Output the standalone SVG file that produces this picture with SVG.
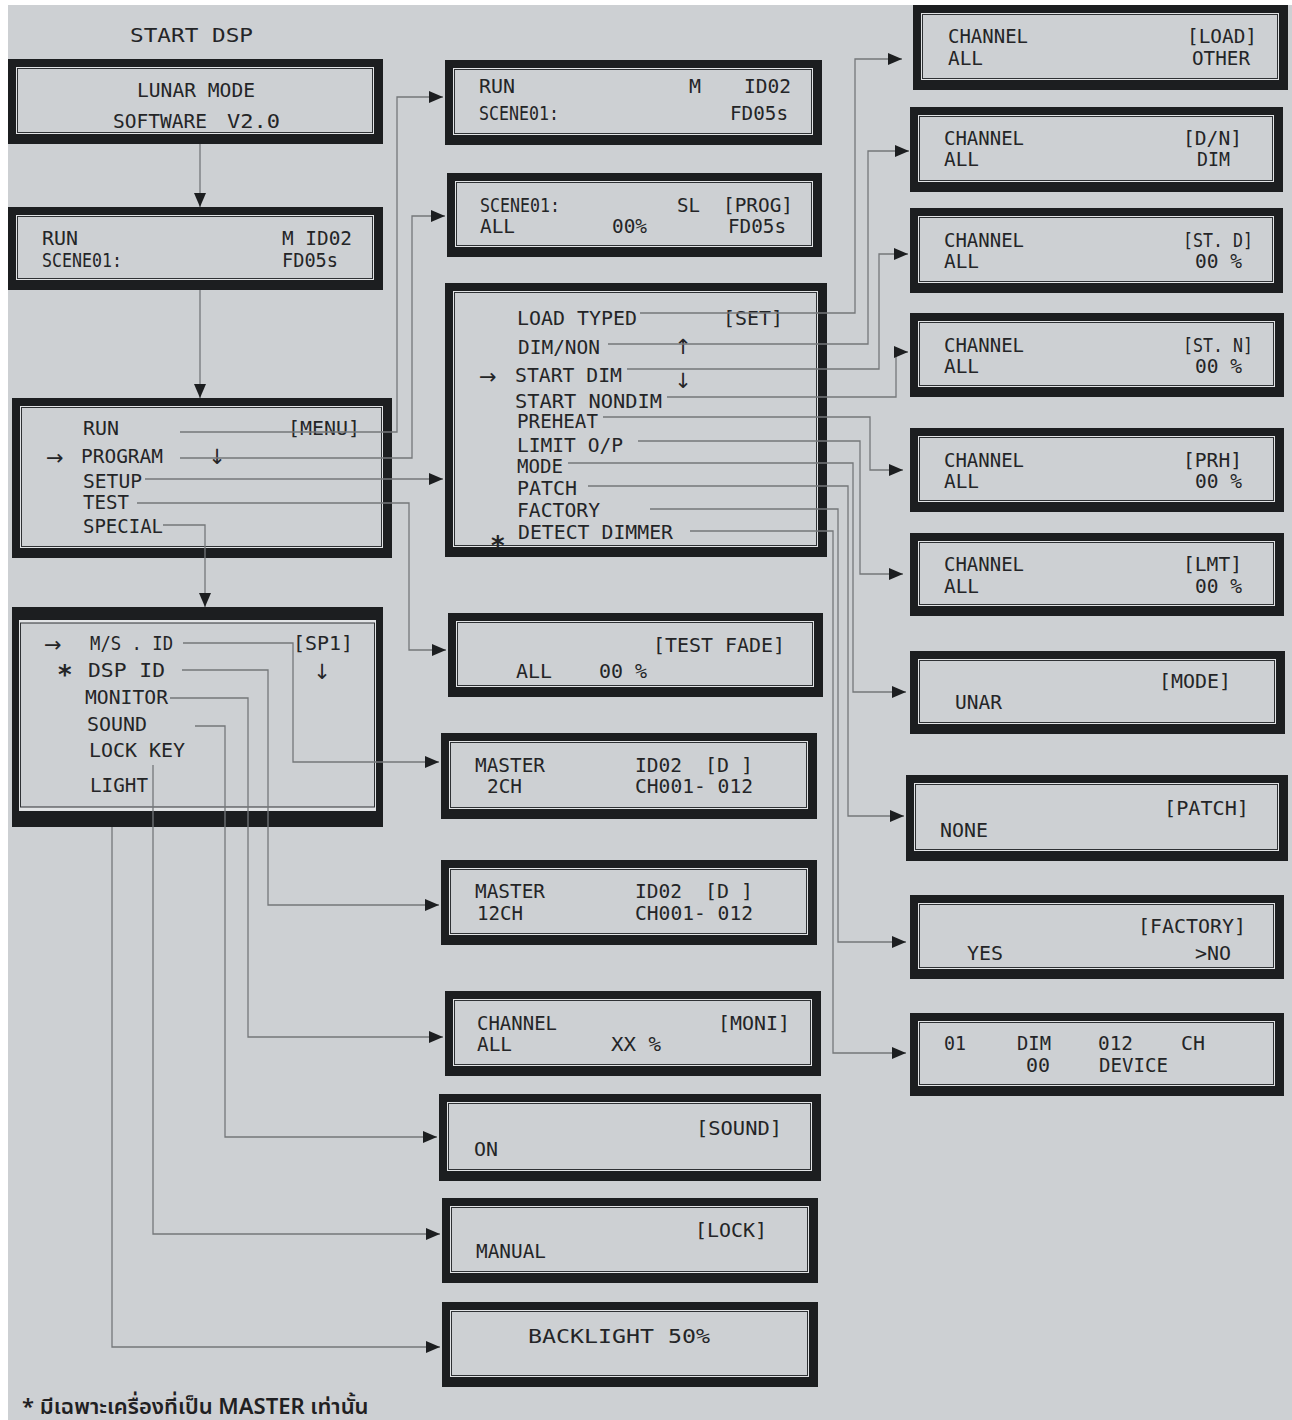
<svg xmlns="http://www.w3.org/2000/svg" width="1292" height="1420" viewBox="0 0 1292 1420">
<style>
.f{fill:#1c1e20}
.r{fill:#e2e4e6}
.i{fill:#cdd0d3;stroke:#2e3134;stroke-width:1}
.t{font-family:"DejaVu Sans Mono","Liberation Mono",monospace;font-size:20px;fill:#242527}
.s{font-family:"DejaVu Sans","Liberation Sans",sans-serif;font-size:21px;fill:#242527}
.a{font-family:"DejaVu Sans","Liberation Sans",sans-serif;font-size:26px;font-weight:bold;fill:#242527}
.c{fill:none;stroke:#74777a;stroke-width:1.3}
.th{font-family:"Noto Sans","Noto Sans Thai","DejaVu Sans",sans-serif;font-size:22px;font-weight:600;fill:#1f2022}
</style>
<defs>
<marker id="ah" markerWidth="14" markerHeight="12" refX="14" refY="6" orient="auto" markerUnits="userSpaceOnUse">
<path d="M0,0 L14,6 L0,12 z" fill="#1c1e20"/>
</marker>
</defs>
<rect x="0" y="0" width="1292" height="1420" fill="#ffffff"/>
<rect x="8" y="5" width="1284" height="1415" fill="#cdd0d3"/>

<text class="t" x="130" y="42" font-size="28" textLength="123" lengthAdjust="spacingAndGlyphs">START DSP</text>

<g id="lunar-mode">
<rect class="f" x="8" y="59" width="375" height="85"/>
<rect class="r" x="16" y="67" width="358" height="67"/>
<rect class="i" x="17.5" y="68.5" width="355" height="64"/>
<text class="t" x="137" y="97" textLength="118" lengthAdjust="spacingAndGlyphs">LUNAR MODE</text>
<text class="t" x="113" y="128" textLength="94" lengthAdjust="spacingAndGlyphs">SOFTWARE</text>
<text class="t" x="227" y="128" textLength="53" lengthAdjust="spacingAndGlyphs">V2.0</text>
</g>

<g id="run-main">
<rect class="f" x="8" y="207" width="375" height="83"/>
<rect class="r" x="16" y="215" width="358" height="65"/>
<rect class="i" x="17.5" y="216.5" width="355" height="62"/>
<text class="t" x="42" y="245" textLength="36" lengthAdjust="spacingAndGlyphs">RUN</text>
<text class="t" x="42" y="267" textLength="80" lengthAdjust="spacingAndGlyphs">SCENE01:</text>
<text class="t" x="282" y="245" textLength="70" lengthAdjust="spacingAndGlyphs">M ID02</text>
<text class="t" x="282" y="267" textLength="56" lengthAdjust="spacingAndGlyphs">FD05s</text>
</g>

<g id="menu">
<rect class="f" x="12" y="398" width="380" height="160"/>
<rect class="r" x="20" y="406" width="363" height="142"/>
<rect class="i" x="21.5" y="407.5" width="360" height="139"/>
<text class="t" x="83" y="435" textLength="36" lengthAdjust="spacingAndGlyphs">RUN</text>
<text class="t" x="288" y="435" textLength="72" lengthAdjust="spacingAndGlyphs">[MENU]</text>
<text class="s" x="46" y="465">→</text>
<text class="t" x="81" y="463" textLength="82" lengthAdjust="spacingAndGlyphs">PROGRAM</text>
<text class="s" x="217" y="464" text-anchor="middle">↓</text>
<text class="t" x="83" y="488" textLength="59" lengthAdjust="spacingAndGlyphs">SETUP</text>
<text class="t" x="83" y="509" textLength="46" lengthAdjust="spacingAndGlyphs">TEST</text>
<text class="t" x="83" y="533" textLength="80" lengthAdjust="spacingAndGlyphs">SPECIAL</text>
</g>

<g id="special">
<rect class="f" x="12" y="607" width="371" height="220"/>
<rect class="r" x="19" y="620" width="357" height="191"/>
<rect class="i" x="20.5" y="623" width="354" height="184" stroke-width="2.5"/>
<text class="s" x="44" y="652">→</text>
<text class="t" x="90" y="650" textLength="83" lengthAdjust="spacingAndGlyphs">M/S . ID</text>
<text class="t" x="293" y="650" textLength="60" lengthAdjust="spacingAndGlyphs">[SP1]</text>
<text class="a" x="58" y="684">*</text>
<text class="t" x="88" y="677" textLength="77" lengthAdjust="spacingAndGlyphs">DSP ID</text>
<text class="s" x="322" y="679" text-anchor="middle">↓</text>
<text class="t" x="85" y="704" textLength="83" lengthAdjust="spacingAndGlyphs">MONITOR</text>
<text class="t" x="87" y="731" textLength="60" lengthAdjust="spacingAndGlyphs">SOUND</text>
<text class="t" x="89" y="757" textLength="96" lengthAdjust="spacingAndGlyphs">LOCK KEY</text>
<text class="t" x="90" y="792" textLength="58" lengthAdjust="spacingAndGlyphs">LIGHT</text>
</g>

<g id="run-scene">
<rect class="f" x="445" y="60" width="377" height="85"/>
<rect class="r" x="453" y="68" width="360" height="67"/>
<rect class="i" x="454.5" y="69.5" width="357" height="64"/>
<text class="t" x="479" y="93" textLength="36" lengthAdjust="spacingAndGlyphs">RUN</text>
<text class="t" x="479" y="120" textLength="80" lengthAdjust="spacingAndGlyphs">SCENE01:</text>
<text class="t" x="689" y="93" textLength="12" lengthAdjust="spacingAndGlyphs">M</text>
<text class="t" x="744" y="93" textLength="47" lengthAdjust="spacingAndGlyphs">ID02</text>
<text class="t" x="730" y="120" textLength="58" lengthAdjust="spacingAndGlyphs">FD05s</text>
</g>

<g id="prog">
<rect class="f" x="447" y="173" width="375" height="84"/>
<rect class="r" x="455" y="181" width="358" height="66"/>
<rect class="i" x="456.5" y="182.5" width="355" height="63"/>
<text class="t" x="480" y="212" textLength="80" lengthAdjust="spacingAndGlyphs">SCENE01:</text>
<text class="t" x="480" y="233" textLength="35" lengthAdjust="spacingAndGlyphs">ALL</text>
<text class="t" x="612" y="233" textLength="35" lengthAdjust="spacingAndGlyphs">00%</text>
<text class="t" x="677" y="212" textLength="23" lengthAdjust="spacingAndGlyphs">SL</text>
<text class="t" x="723" y="212" textLength="70" lengthAdjust="spacingAndGlyphs">[PROG]</text>
<text class="t" x="728" y="233" textLength="58" lengthAdjust="spacingAndGlyphs">FD05s</text>
</g>

<g id="setup">
<rect class="f" x="445" y="283" width="382" height="274"/>
<rect class="r" x="453" y="291" width="365" height="256"/>
<rect class="i" x="454.5" y="292.5" width="362" height="253"/>
<text class="t" x="517" y="325" textLength="120" lengthAdjust="spacingAndGlyphs">LOAD TYPED</text>
<text class="t" x="723" y="325" textLength="60" lengthAdjust="spacingAndGlyphs">[SET]</text>
<text class="t" x="518" y="354" textLength="82" lengthAdjust="spacingAndGlyphs">DIM/NON</text>
<text class="s" x="683" y="354" text-anchor="middle">↑</text>
<text class="s" x="479" y="384">→</text>
<text class="t" x="515" y="382" textLength="107" lengthAdjust="spacingAndGlyphs">START DIM</text>
<text class="s" x="683" y="388" text-anchor="middle">↓</text>
<text class="t" x="515" y="408" textLength="147" lengthAdjust="spacingAndGlyphs">START NONDIM</text>
<text class="t" x="517" y="428" textLength="81" lengthAdjust="spacingAndGlyphs">PREHEAT</text>
<text class="t" x="517" y="452" textLength="106" lengthAdjust="spacingAndGlyphs">LIMIT O/P</text>
<text class="t" x="517" y="473" textLength="46" lengthAdjust="spacingAndGlyphs">MODE</text>
<text class="t" x="517" y="495" textLength="60" lengthAdjust="spacingAndGlyphs">PATCH</text>
<text class="t" x="517" y="517" textLength="83" lengthAdjust="spacingAndGlyphs">FACTORY</text>
<text class="a" x="491" y="555">*</text>
<text class="t" x="518" y="539" textLength="155" lengthAdjust="spacingAndGlyphs">DETECT DIMMER</text>
</g>

<g id="test">
<rect class="f" x="448" y="613" width="375" height="84"/>
<rect class="r" x="456" y="621" width="358" height="66"/>
<rect class="i" x="457.5" y="622.5" width="355" height="63"/>
<text class="t" x="653" y="652" textLength="132" lengthAdjust="spacingAndGlyphs">[TEST FADE]</text>
<text class="t" x="516" y="678" textLength="36" lengthAdjust="spacingAndGlyphs">ALL</text>
<text class="t" x="599" y="678" textLength="48" lengthAdjust="spacingAndGlyphs">00 %</text>
</g>

<g id="master-2ch">
<rect class="f" x="441" y="733" width="376" height="86"/>
<rect class="r" x="449" y="741" width="359" height="68"/>
<rect class="i" x="450.5" y="742.5" width="356" height="65"/>
<text class="t" x="475" y="772" textLength="70" lengthAdjust="spacingAndGlyphs">MASTER</text>
<text class="t" x="487" y="793" textLength="35" lengthAdjust="spacingAndGlyphs">2CH</text>
<text class="t" x="635" y="772" textLength="47" lengthAdjust="spacingAndGlyphs">ID02</text>
<text class="t" x="705" y="772" textLength="48" lengthAdjust="spacingAndGlyphs">[D ]</text>
<text class="t" x="635" y="793" textLength="118" lengthAdjust="spacingAndGlyphs">CH001- 012</text>
</g>

<g id="master-12ch">
<rect class="f" x="441" y="860" width="376" height="85"/>
<rect class="r" x="449" y="868" width="359" height="67"/>
<rect class="i" x="450.5" y="869.5" width="356" height="64"/>
<text class="t" x="475" y="898" textLength="70" lengthAdjust="spacingAndGlyphs">MASTER</text>
<text class="t" x="477" y="920" textLength="46" lengthAdjust="spacingAndGlyphs">12CH</text>
<text class="t" x="635" y="898" textLength="47" lengthAdjust="spacingAndGlyphs">ID02</text>
<text class="t" x="705" y="898" textLength="48" lengthAdjust="spacingAndGlyphs">[D ]</text>
<text class="t" x="635" y="920" textLength="118" lengthAdjust="spacingAndGlyphs">CH001- 012</text>
</g>

<g id="monitor">
<rect class="f" x="445" y="991" width="376" height="85"/>
<rect class="r" x="453" y="999" width="359" height="67"/>
<rect class="i" x="454.5" y="1000.5" width="356" height="64"/>
<text class="t" x="477" y="1030" textLength="80" lengthAdjust="spacingAndGlyphs">CHANNEL</text>
<text class="t" x="477" y="1051" textLength="35" lengthAdjust="spacingAndGlyphs">ALL</text>
<text class="t" x="611" y="1051" textLength="50" lengthAdjust="spacingAndGlyphs">XX %</text>
<text class="t" x="718" y="1030" textLength="72" lengthAdjust="spacingAndGlyphs">[MONI]</text>
</g>

<g id="sound">
<rect class="f" x="439" y="1094" width="382" height="87"/>
<rect class="r" x="447" y="1102" width="365" height="69"/>
<rect class="i" x="448.5" y="1103.5" width="362" height="66"/>
<text class="t" x="696" y="1135" textLength="86" lengthAdjust="spacingAndGlyphs">[SOUND]</text>
<text class="t" x="474" y="1156" textLength="24" lengthAdjust="spacingAndGlyphs">ON</text>
</g>

<g id="lock">
<rect class="f" x="442" y="1198" width="376" height="85"/>
<rect class="r" x="450" y="1206" width="359" height="67"/>
<rect class="i" x="451.5" y="1207.5" width="356" height="64"/>
<text class="t" x="695" y="1237" textLength="72" lengthAdjust="spacingAndGlyphs">[LOCK]</text>
<text class="t" x="476" y="1258" textLength="70" lengthAdjust="spacingAndGlyphs">MANUAL</text>
</g>

<g id="backlight">
<rect class="f" x="442" y="1302" width="376" height="85"/>
<rect class="r" x="450" y="1310" width="359" height="67"/>
<rect class="i" x="451.5" y="1311.5" width="356" height="64"/>
<text class="t" x="528" y="1343" font-size="23" textLength="182" lengthAdjust="spacingAndGlyphs">BACKLIGHT 50%</text>
</g>

<g id="load">
<rect class="f" x="913" y="5" width="375" height="85"/>
<rect class="r" x="921" y="13" width="358" height="67"/>
<rect class="i" x="922.5" y="14.5" width="355" height="64"/>
<text class="t" x="948" y="43" textLength="80" lengthAdjust="spacingAndGlyphs">CHANNEL</text>
<text class="t" x="948" y="65" textLength="35" lengthAdjust="spacingAndGlyphs">ALL</text>
<text class="t" x="1187" y="43" textLength="70" lengthAdjust="spacingAndGlyphs">[LOAD]</text>
<text class="t" x="1192" y="65" textLength="58" lengthAdjust="spacingAndGlyphs">OTHER</text>
</g>

<g id="dim-non">
<rect class="f" x="910" y="107" width="373" height="85"/>
<rect class="r" x="918" y="115" width="356" height="67"/>
<rect class="i" x="919.5" y="116.5" width="353" height="64"/>
<text class="t" x="944" y="145" textLength="80" lengthAdjust="spacingAndGlyphs">CHANNEL</text>
<text class="t" x="944" y="166" textLength="35" lengthAdjust="spacingAndGlyphs">ALL</text>
<text class="t" x="1183" y="145" textLength="59" lengthAdjust="spacingAndGlyphs">[D/N]</text>
<text class="t" x="1197" y="166" textLength="33" lengthAdjust="spacingAndGlyphs">DIM</text>
</g>

<g id="start-dim">
<rect class="f" x="910" y="208" width="373" height="85"/>
<rect class="r" x="918" y="216" width="356" height="67"/>
<rect class="i" x="919.5" y="217.5" width="353" height="64"/>
<text class="t" x="944" y="247" textLength="80" lengthAdjust="spacingAndGlyphs">CHANNEL</text>
<text class="t" x="944" y="268" textLength="35" lengthAdjust="spacingAndGlyphs">ALL</text>
<text class="t" x="1183" y="247" textLength="70" lengthAdjust="spacingAndGlyphs">[ST. D]</text>
<text class="t" x="1195" y="268" textLength="47" lengthAdjust="spacingAndGlyphs">00 %</text>
</g>

<g id="start-nondim">
<rect class="f" x="910" y="313" width="374" height="84"/>
<rect class="r" x="918" y="321" width="357" height="66"/>
<rect class="i" x="919.5" y="322.5" width="354" height="63"/>
<text class="t" x="944" y="352" textLength="80" lengthAdjust="spacingAndGlyphs">CHANNEL</text>
<text class="t" x="944" y="373" textLength="35" lengthAdjust="spacingAndGlyphs">ALL</text>
<text class="t" x="1183" y="352" textLength="70" lengthAdjust="spacingAndGlyphs">[ST. N]</text>
<text class="t" x="1195" y="373" textLength="47" lengthAdjust="spacingAndGlyphs">00 %</text>
</g>

<g id="preheat">
<rect class="f" x="910" y="428" width="374" height="84"/>
<rect class="r" x="918" y="436" width="357" height="66"/>
<rect class="i" x="919.5" y="437.5" width="354" height="63"/>
<text class="t" x="944" y="467" textLength="80" lengthAdjust="spacingAndGlyphs">CHANNEL</text>
<text class="t" x="944" y="488" textLength="35" lengthAdjust="spacingAndGlyphs">ALL</text>
<text class="t" x="1183" y="467" textLength="59" lengthAdjust="spacingAndGlyphs">[PRH]</text>
<text class="t" x="1195" y="488" textLength="47" lengthAdjust="spacingAndGlyphs">00 %</text>
</g>

<g id="limit">
<rect class="f" x="910" y="533" width="374" height="83"/>
<rect class="r" x="918" y="541" width="357" height="65"/>
<rect class="i" x="919.5" y="542.5" width="354" height="62"/>
<text class="t" x="944" y="571" textLength="80" lengthAdjust="spacingAndGlyphs">CHANNEL</text>
<text class="t" x="944" y="593" textLength="35" lengthAdjust="spacingAndGlyphs">ALL</text>
<text class="t" x="1183" y="571" textLength="59" lengthAdjust="spacingAndGlyphs">[LMT]</text>
<text class="t" x="1195" y="593" textLength="47" lengthAdjust="spacingAndGlyphs">00 %</text>
</g>

<g id="mode">
<rect class="f" x="910" y="651" width="375" height="83"/>
<rect class="r" x="918" y="659" width="358" height="65"/>
<rect class="i" x="919.5" y="660.5" width="355" height="62"/>
<text class="t" x="1159" y="688" textLength="72" lengthAdjust="spacingAndGlyphs">[MODE]</text>
<text class="t" x="955" y="709" textLength="47" lengthAdjust="spacingAndGlyphs">UNAR</text>
</g>

<g id="patch">
<rect class="f" x="906" y="775" width="382" height="86"/>
<rect class="r" x="914" y="783" width="365" height="68"/>
<rect class="i" x="915.5" y="784.5" width="362" height="65"/>
<text class="t" x="1164" y="815" textLength="85" lengthAdjust="spacingAndGlyphs">[PATCH]</text>
<text class="t" x="940" y="837" textLength="48" lengthAdjust="spacingAndGlyphs">NONE</text>
</g>

<g id="factory">
<rect class="f" x="910" y="895" width="374" height="84"/>
<rect class="r" x="918" y="903" width="357" height="66"/>
<rect class="i" x="919.5" y="904.5" width="354" height="63"/>
<text class="t" x="1138" y="933" textLength="108" lengthAdjust="spacingAndGlyphs">[FACTORY]</text>
<text class="t" x="967" y="960" textLength="36" lengthAdjust="spacingAndGlyphs">YES</text>
<text class="t" x="1195" y="960" textLength="36" lengthAdjust="spacingAndGlyphs">&gt;NO</text>
</g>

<g id="detect">
<rect class="f" x="910" y="1013" width="374" height="83"/>
<rect class="r" x="918" y="1021" width="357" height="65"/>
<rect class="i" x="919.5" y="1022.5" width="354" height="62"/>
<text class="t" x="944" y="1050" textLength="22" lengthAdjust="spacingAndGlyphs">01</text>
<text class="t" x="1017" y="1050" textLength="34" lengthAdjust="spacingAndGlyphs">DIM</text>
<text class="t" x="1026" y="1072" textLength="24" lengthAdjust="spacingAndGlyphs">00</text>
<text class="t" x="1098" y="1050" textLength="35" lengthAdjust="spacingAndGlyphs">012</text>
<text class="t" x="1099" y="1072" textLength="69" lengthAdjust="spacingAndGlyphs">DEVICE</text>
<text class="t" x="1181" y="1050" textLength="24" lengthAdjust="spacingAndGlyphs">CH</text>
</g>

<g id="connectors">
<polyline class="c" points="200,144 200,207" marker-end="url(#ah)"/>
<polyline class="c" points="200,290 200,398" marker-end="url(#ah)"/>
<polyline class="c" points="180,432 397,432 397,97 443,97" marker-end="url(#ah)"/>
<polyline class="c" points="180,458 412,458 412,216 445,216" marker-end="url(#ah)"/>
<polyline class="c" points="145,479 443,479" marker-end="url(#ah)"/>
<polyline class="c" points="137,503 409,503 409,650 446,650" marker-end="url(#ah)"/>
<polyline class="c" points="163,525 205,525 205,607" marker-end="url(#ah)"/>
<polyline class="c" points="183,643 293,643 293,762 439,762" marker-end="url(#ah)"/>
<polyline class="c" points="182,670 268,670 268,905 439,905" marker-end="url(#ah)"/>
<polyline class="c" points="170,698 248,698 248,1037 443,1037" marker-end="url(#ah)"/>
<polyline class="c" points="195,726 225,726 225,1137 437,1137" marker-end="url(#ah)"/>
<polyline class="c" points="153,765 153,1234 440,1234" marker-end="url(#ah)"/>
<polyline class="c" points="112,827 112,1347 440,1347" marker-end="url(#ah)"/>
<polyline class="c" points="640,313 855,313 855,59 902,59" marker-end="url(#ah)"/>
<polyline class="c" points="608,344 868,344 868,151 909,151" marker-end="url(#ah)"/>
<polyline class="c" points="627,369 879,369 879,254 908,254" marker-end="url(#ah)"/>
<polyline class="c" points="667,397 896,397 896,352 908,352" marker-end="url(#ah)"/>
<polyline class="c" points="603,417 870,417 870,470 903,470" marker-end="url(#ah)"/>
<polyline class="c" points="638,441 860,441 860,574 903,574" marker-end="url(#ah)"/>
<polyline class="c" points="568,463 853,463 853,692 906,692" marker-end="url(#ah)"/>
<polyline class="c" points="588,486 848,486 848,816 904,816" marker-end="url(#ah)"/>
<polyline class="c" points="650,509 838,509 838,942 906,942" marker-end="url(#ah)"/>
<polyline class="c" points="690,531 833,531 833,1053 906,1053" marker-end="url(#ah)"/>
</g>

<text class="th" x="22" y="1414">* มีเฉพาะเครื่องที่เป็น MASTER เท่านั้น</text>
</svg>
